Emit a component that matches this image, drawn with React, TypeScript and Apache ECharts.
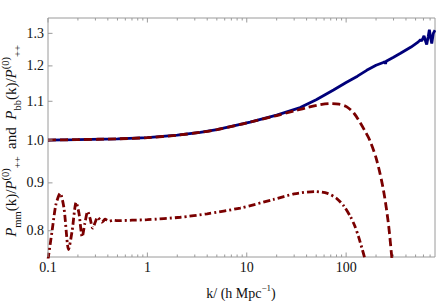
import React, { useEffect, useRef } from "react";
import * as echarts from "echarts";

const X_MIN = 0.1;
const X_MAX = 784;
const Y_MIN = 0.75;
const Y_MAX = 1.35;

const xMajorTicks = [0.1, 1, 10, 100];
const xTickLabels = ["0.1", "1", "10", "100"];
const xMinorTicks = [
  0.2, 0.3, 0.4, 0.5, 0.6, 0.7, 0.8, 0.9,
  2, 3, 4, 5, 6, 7, 8, 9,
  20, 30, 40, 50, 60, 70, 80, 90,
  200, 300, 400, 500, 600, 700,
];
const yTickValues = [0.8, 0.9, 1.0, 1.1, 1.2, 1.3];
const yTickLabels = ["0.8", "0.9", "1.0", "1.1", "1.2", "1.3"];

// solid navy: P_bb / P++
const bbK = [0.1, 0.2, 0.5, 1, 2, 3.4, 5, 8.6, 10.8, 20, 34.5, 50, 74.6, 100, 130, 161, 200, 240, 245, 249, 253, 300, 349, 450, 533, 560, 576, 592, 608, 630, 647, 670, 688, 710, 727, 754, 784];
const bbRatio = [1.0, 1.001, 1.003, 1.006, 1.012, 1.019, 1.026, 1.039, 1.045, 1.063, 1.083, 1.104, 1.131, 1.152, 1.170, 1.187, 1.202, 1.211, 1.212, 1.206, 1.214, 1.226, 1.237, 1.257, 1.273, 1.28, 1.276, 1.284, 1.292, 1.275, 1.265, 1.29, 1.312, 1.285, 1.268, 1.3, 1.31];

// dashed dark red
const dashK = [0.1, 0.2, 0.5, 1, 2, 3.4, 5, 8.6, 10.8, 20, 30, 40.3, 55, 69, 85, 101.6, 120, 138, 155, 174, 203, 237, 266, 288, 300];
const dashRatio = [1.0, 1.001, 1.003, 1.006, 1.012, 1.019, 1.026, 1.039, 1.045, 1.062, 1.074, 1.083, 1.091, 1.094, 1.092, 1.085, 1.068, 1.044, 1.022, 0.998, 0.952, 0.885, 0.815, 0.75, 0.72];

// dash-dot dark red: P_mm / P++
const mmK = [0.1, 0.11, 0.12, 0.1326, 0.145, 0.161, 0.175, 0.192, 0.205, 0.221, 0.235, 0.251, 0.265, 0.282, 0.3, 0.316, 0.333, 0.348, 0.362, 0.376, 0.395, 0.415, 0.448, 0.5, 0.7, 1, 2.15, 4, 8.6, 18.6, 30, 48.8, 65, 80.6, 95, 110, 122, 133, 145, 155, 162];
const mmRatio = [0.745, 0.8, 0.853, 0.877, 0.845, 0.764, 0.8, 0.858, 0.835, 0.788, 0.815, 0.839, 0.825, 0.805, 0.818, 0.827, 0.822, 0.817, 0.82, 0.823, 0.821, 0.819, 0.821, 0.82, 0.821, 0.822, 0.827, 0.834, 0.846, 0.864, 0.876, 0.881, 0.877, 0.866, 0.85, 0.829, 0.81, 0.789, 0.765, 0.745, 0.72];

const FONT = "Liberation Serif";
const TICK_FONT = "14px 'Liberation Serif', serif";
const FRAME = "#9a9a9a";
const TEXT = "#111111";
const NAVY = "#00007a";
const DARKRED = "#7a0000";

export default function App() {
  const ref = useRef<HTMLDivElement>(null);
  useEffect(() => {
    if (!ref.current) return;
    const chart = echarts.init(ref.current, null, { renderer: "svg" });
    const zip = (a: number[], b: number[]) => a.map((v, i) => [v, b[i]]);

    const option: any = {
      animation: false,
      textStyle: { fontFamily: FONT },
      grid: {
        left: 48,
        right: 1,
        top: 18,
        bottom: 44,
        show: true,
        borderColor: FRAME,
        borderWidth: 1,
        backgroundColor: "transparent",
      },
      xAxis: {
        type: "log",
        logBase: 10,
        min: X_MIN,
        max: X_MAX,
        axisLine: { show: false },
        axisTick: { show: false },
        axisLabel: { show: false },
        splitLine: { show: false },
      },
      yAxis: {
        type: "log",
        logBase: 10,
        min: Y_MIN,
        max: Y_MAX,
        axisLine: { show: false },
        axisTick: { show: false },
        axisLabel: { show: false },
        splitLine: { show: false },
      },
      graphic: [
        {
          type: "text",
          x: 241,
          y: 293,
          style: {
            text: "{n|k/ (h Mpc}{sp|−1}{n|)}",
            align: "center",
            verticalAlign: "middle",
            fill: TEXT,
            rich: {
              n: { fontFamily: FONT, fontSize: 14, lineHeight: 20, verticalAlign: "middle", fill: TEXT },
              sp: { fontFamily: FONT, fontSize: 9, lineHeight: 11, verticalAlign: "top", fill: TEXT },
            },
          },
        },
        {
          type: "text",
          x: 11,
          y: 141,
          rotation: Math.PI / 2,
          style: {
            text:
              "{i|P}{sb|mm}{n|(k)/}{i|P}{sp|(0)}{sb|++}{n|  and  }{i|P}{sb|bb}{n|(k)/}{i|P}{sp|(0)}{sb|++}",
            align: "center",
            verticalAlign: "middle",
            fill: TEXT,
            rich: {
              i: { fontFamily: FONT, fontSize: 15, fontStyle: "italic", lineHeight: 23, verticalAlign: "middle", fill: TEXT },
              n: { fontFamily: FONT, fontSize: 15, lineHeight: 23, verticalAlign: "middle", fill: TEXT },
              sb: { fontFamily: FONT, fontSize: 10.5, lineHeight: 12, verticalAlign: "bottom", fill: TEXT },
              sp: { fontFamily: FONT, fontSize: 10.5, lineHeight: 12, verticalAlign: "top", fill: TEXT },
            },
          },
        },
      ],
      series: [
        {
          type: "line",
          data: zip(bbK, bbRatio),
          showSymbol: false,
          smooth: false,
          lineStyle: { color: NAVY, width: 2.8 },
          z: 3,
        },
        {
          type: "line",
          data: zip(dashK, dashRatio),
          showSymbol: false,
          smooth: 0.3,
          lineStyle: { color: DARKRED, width: 2.8, type: [8, 4] },
          z: 4,
        },
        {
          type: "line",
          data: zip(mmK, mmRatio),
          showSymbol: false,
          smooth: 0.25,
          lineStyle: { color: DARKRED, width: 2.8, type: [7, 3, 2, 3] },
          z: 4,
        },
        {
          type: "custom",
          data: xMajorTicks.map((k) => [k, Y_MIN]),
          silent: true,
          z: 5,
          renderItem: (params: any, api: any) => {
            const k = api.value(0);
            const b = api.coord([k, Y_MIN]);
            const t = api.coord([k, Y_MAX]);
            return {
              type: "group",
              children: [
                { type: "line", shape: { x1: b[0], y1: b[1], x2: b[0], y2: b[1] - 4.5 }, style: { stroke: FRAME, lineWidth: 1 } },
                { type: "line", shape: { x1: t[0], y1: t[1], x2: t[0], y2: t[1] + 4.5 }, style: { stroke: FRAME, lineWidth: 1 } },
                {
                  type: "text",
                  style: {
                    text: xTickLabels[params.dataIndex],
                    x: b[0],
                    y: b[1] + 10,
                    font: TICK_FONT,
                    textAlign: "center",
                    textVerticalAlign: "middle",
                    align: "center",
                    verticalAlign: "middle",
                    fill: TEXT,
                  },
                },
              ],
            };
          },
        },
        {
          type: "custom",
          data: xMinorTicks.map((k) => [k, Y_MIN]),
          silent: true,
          z: 5,
          renderItem: (params: any, api: any) => {
            const k = api.value(0);
            const b = api.coord([k, Y_MIN]);
            const t = api.coord([k, Y_MAX]);
            return {
              type: "group",
              children: [
                { type: "line", shape: { x1: b[0], y1: b[1], x2: b[0], y2: b[1] - 2.5 }, style: { stroke: FRAME, lineWidth: 1 } },
                { type: "line", shape: { x1: t[0], y1: t[1], x2: t[0], y2: t[1] + 2.5 }, style: { stroke: FRAME, lineWidth: 1 } },
              ],
            };
          },
        },
        {
          type: "custom",
          data: yTickValues.map((v) => [X_MIN, v]),
          silent: true,
          z: 5,
          renderItem: (params: any, api: any) => {
            const v = api.value(1);
            const p = api.coord([X_MIN, v]);
            return {
              type: "group",
              children: [
                { type: "line", shape: { x1: p[0], y1: p[1], x2: p[0] + 4.5, y2: p[1] }, style: { stroke: FRAME, lineWidth: 1 } },
                {
                  type: "text",
                  style: {
                    text: yTickLabels[params.dataIndex],
                    x: p[0] - 4,
                    y: p[1],
                    font: TICK_FONT,
                    textAlign: "right",
                    textVerticalAlign: "middle",
                    align: "right",
                    verticalAlign: "middle",
                    fill: TEXT,
                  },
                },
              ],
            };
          },
        },
      ],
    };
    chart.setOption(option);
    return () => chart.dispose();
  }, []);
  return (
    <div
      ref={ref}
      style={{ position: "fixed", left: 0, top: 0, width: 436, height: 301, background: "#fff" }}
    />
  );
}
